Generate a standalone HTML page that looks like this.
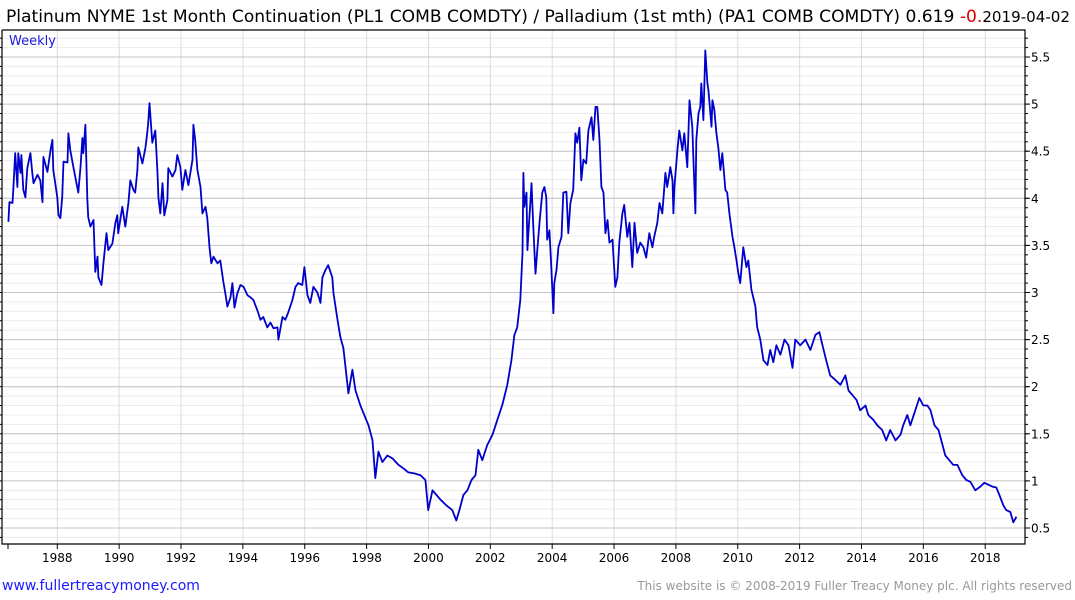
<!DOCTYPE html>
<html><head><meta charset="utf-8">
<style>
html,body{margin:0;padding:0;background:#fff;width:1075px;height:600px;overflow:hidden;font-family:"Liberation Sans","DejaVu Sans",sans-serif;}
svg text{font-family:"DejaVu Sans","Liberation Sans",sans-serif;}
</style></head>
<body>
<svg id="chart" width="1075" height="600" viewBox="0 0 1075 600" xmlns="http://www.w3.org/2000/svg">
<text x="6" y="22" font-size="17" fill="#000" textLength="1064" lengthAdjust="spacingAndGlyphs">Platinum NYME 1st Month Continuation (PL1 COMB COMDTY) / Palladium (1st mth)  (PA1 COMB COMDTY) 0.619 <tspan fill="#e00000">-0.</tspan><tspan font-size="15">2019-04-02</tspan></text>
<g id="grid"></g>
<text x="9" y="45" font-size="13" fill="#1a1adc">Weekly</text>
<g id="axes"></g>
<path id="series" fill="none" stroke="#0000cc" stroke-width="1.8" stroke-linejoin="round"/>
<text x="2" y="590" font-size="14" fill="#1a1aff">www.fullertreacymoney.com</text>
<text x="1072" y="590" font-size="12" fill="#999" text-anchor="end">This website is © 2008-2019 Fuller Treacy Money plc. All rights reserved</text>
</svg>
<script>
const dates=[1986.42,1986.45,1986.55,1986.58,1986.64,1986.71,1986.74,1986.81,1986.84,1986.90,1986.97,1987.03,1987.13,1987.19,1987.23,1987.36,1987.45,1987.52,1987.55,1987.68,1987.78,1987.84,1987.87,1988.00,1988.04,1988.10,1988.16,1988.20,1988.33,1988.36,1988.42,1988.52,1988.68,1988.75,1988.81,1988.84,1988.91,1988.97,1989.00,1989.07,1989.17,1989.23,1989.30,1989.33,1989.43,1989.49,1989.59,1989.65,1989.78,1989.88,1989.94,1989.97,1990.10,1990.20,1990.30,1990.36,1990.46,1990.52,1990.59,1990.62,1990.75,1990.85,1990.91,1990.94,1990.98,1991.07,1991.17,1991.24,1991.27,1991.33,1991.40,1991.46,1991.56,1991.59,1991.72,1991.82,1991.88,1991.98,1992.04,1992.14,1992.24,1992.37,1992.40,1992.46,1992.53,1992.63,1992.69,1992.79,1992.85,1992.92,1992.98,1993.05,1993.18,1993.27,1993.37,1993.43,1993.50,1993.60,1993.66,1993.73,1993.82,1993.92,1994.02,1994.15,1994.24,1994.34,1994.47,1994.57,1994.66,1994.79,1994.89,1994.99,1995.12,1995.15,1995.28,1995.37,1995.47,1995.60,1995.70,1995.79,1995.92,1995.99,1996.09,1996.18,1996.28,1996.41,1996.51,1996.57,1996.67,1996.76,1996.89,1996.93,1997.06,1997.15,1997.25,1997.41,1997.54,1997.64,1997.80,1997.96,1998.06,1998.19,1998.28,1998.38,1998.51,1998.67,1998.83,1999.03,1999.16,1999.35,1999.54,1999.74,1999.90,1999.99,2000.13,2000.26,2000.39,2000.58,2000.77,2000.90,2001.00,2001.13,2001.26,2001.39,2001.52,2001.61,2001.74,2001.90,2002.07,2002.23,2002.39,2002.55,2002.68,2002.78,2002.87,2002.97,2003.04,2003.07,2003.10,2003.17,2003.20,2003.23,2003.30,2003.33,2003.39,2003.46,2003.52,2003.59,2003.68,2003.75,2003.81,2003.84,2003.91,2003.97,2004.04,2004.07,2004.14,2004.20,2004.30,2004.36,2004.46,2004.52,2004.59,2004.68,2004.75,2004.81,2004.88,2004.94,2005.01,2005.10,2005.17,2005.27,2005.33,2005.40,2005.46,2005.53,2005.59,2005.66,2005.72,2005.79,2005.85,2005.95,2006.04,2006.11,2006.17,2006.27,2006.33,2006.43,2006.50,2006.59,2006.66,2006.75,2006.85,2006.95,2007.04,2007.14,2007.24,2007.30,2007.40,2007.47,2007.56,2007.66,2007.72,2007.82,2007.89,2007.92,2007.95,2008.05,2008.11,2008.21,2008.27,2008.37,2008.44,2008.53,2008.56,2008.63,2008.66,2008.73,2008.79,2008.82,2008.89,2008.95,2009.02,2009.05,2009.15,2009.18,2009.24,2009.31,2009.37,2009.44,2009.50,2009.60,2009.66,2009.73,2009.83,2009.89,2009.96,2010.02,2010.08,2010.18,2010.28,2010.34,2010.44,2010.50,2010.57,2010.63,2010.73,2010.83,2010.96,2011.05,2011.15,2011.25,2011.38,2011.51,2011.64,2011.77,2011.86,2012.02,2012.19,2012.35,2012.51,2012.64,2012.74,2012.86,2012.99,2013.16,2013.32,2013.48,2013.58,2013.71,2013.84,2013.96,2014.13,2014.22,2014.38,2014.51,2014.67,2014.80,2014.93,2015.10,2015.26,2015.35,2015.48,2015.58,2015.74,2015.87,2016.00,2016.13,2016.23,2016.36,2016.49,2016.58,2016.71,2016.84,2016.97,2017.10,2017.26,2017.39,2017.52,2017.68,2017.84,2017.97,2018.10,2018.23,2018.36,2018.46,2018.59,2018.68,2018.81,2018.91,2019.01];
const values=[3.75,3.96,3.95,4.11,4.48,4.12,4.48,4.27,4.46,4.09,4.01,4.32,4.48,4.28,4.16,4.25,4.19,3.96,4.44,4.28,4.51,4.62,4.30,4.01,3.82,3.79,4.01,4.39,4.38,4.69,4.51,4.33,4.06,4.33,4.64,4.48,4.78,4.00,3.80,3.70,3.77,3.22,3.38,3.16,3.08,3.31,3.63,3.45,3.52,3.74,3.82,3.63,3.91,3.70,3.95,4.19,4.09,4.06,4.30,4.54,4.37,4.54,4.70,4.80,5.01,4.59,4.72,4.27,4.01,3.84,4.16,3.82,3.98,4.32,4.23,4.30,4.46,4.33,4.09,4.30,4.14,4.41,4.78,4.62,4.30,4.12,3.84,3.91,3.79,3.48,3.31,3.38,3.31,3.34,3.11,3.00,2.85,2.95,3.10,2.84,2.99,3.08,3.06,2.97,2.95,2.92,2.81,2.71,2.74,2.63,2.68,2.62,2.63,2.50,2.74,2.71,2.79,2.92,3.06,3.10,3.08,3.27,2.97,2.89,3.06,3.00,2.89,3.16,3.24,3.29,3.16,2.99,2.71,2.53,2.41,1.93,2.18,1.96,1.80,1.67,1.59,1.43,1.03,1.31,1.20,1.27,1.24,1.17,1.14,1.09,1.08,1.06,1.01,0.69,0.90,0.85,0.80,0.74,0.69,0.58,0.69,0.85,0.90,1.01,1.06,1.33,1.22,1.38,1.49,1.65,1.81,2.02,2.28,2.55,2.63,2.92,3.42,4.27,3.91,4.06,3.45,3.63,3.98,4.16,3.70,3.20,3.45,3.74,4.06,4.12,4.01,3.56,3.66,3.27,2.78,3.10,3.24,3.48,3.59,4.06,4.07,3.63,3.95,4.09,4.69,4.59,4.75,4.19,4.41,4.37,4.72,4.86,4.62,4.97,4.97,4.62,4.12,4.06,3.63,3.77,3.53,3.56,3.06,3.16,3.53,3.84,3.93,3.59,3.74,3.27,3.74,3.42,3.53,3.48,3.37,3.63,3.48,3.59,3.74,3.95,3.84,4.27,4.12,4.33,4.19,3.84,4.12,4.51,4.72,4.51,4.69,4.33,5.04,4.76,4.48,3.84,4.62,4.90,4.97,5.22,4.83,5.57,5.22,5.15,4.76,5.04,4.94,4.69,4.54,4.30,4.48,4.09,4.06,3.84,3.59,3.48,3.34,3.20,3.10,3.48,3.27,3.34,3.03,2.95,2.85,2.63,2.50,2.28,2.23,2.39,2.26,2.44,2.34,2.50,2.44,2.20,2.50,2.44,2.50,2.39,2.55,2.58,2.44,2.28,2.12,2.07,2.02,2.12,1.96,1.91,1.86,1.75,1.80,1.70,1.65,1.59,1.54,1.43,1.54,1.43,1.49,1.59,1.70,1.59,1.75,1.88,1.80,1.80,1.75,1.59,1.54,1.43,1.27,1.22,1.17,1.17,1.06,1.01,0.99,0.90,0.94,0.98,0.96,0.94,0.93,0.85,0.74,0.69,0.67,0.56,0.62];
const yTicks=[0.5,1,1.5,2,2.5,3,3.5,4,4.5,5,5.5];
const yTickLabels=["0.5","1","1.5","2","2.5","3","3.5","4","4.5","5","5.5"];
const xTicks=[1988,1990,1992,1994,1996,1998,2000,2002,2004,2006,2008,2010,2012,2014,2016,2018];

const L=2,R=1025,T=30,B=544;
function xs(yr){return 57.3+(yr-1988)*30.93;}
function ys(v){return 528-(v-0.5)*94.2;}
const NS="http://www.w3.org/2000/svg";
const grid=document.getElementById('grid'),axes=document.getElementById('axes');
function mk(parent,tag,attrs){const e=document.createElementNS(NS,tag);for(const k in attrs)e.setAttribute(k,attrs[k]);parent.appendChild(e);return e;}
for(let v=0.3;v<=5.8;v+=0.1){const y=ys(v);if(y<T||y>B)continue;
 const l=mk(grid,'line',{x1:L,x2:R,y1:y,y2:y,stroke:'#ececec','stroke-width':1});
 
 }
xTicks.forEach(t=>{const x=xs(t);
 const l=mk(grid,'line',{x1:x,x2:x,y1:T,y2:B,stroke:'#dcdcdc','stroke-width':1});
 
 
 const tk=mk(axes,'line',{x1:x,x2:x,y1:B,y2:B+5,stroke:'#000','stroke-width':1});
 
 
 const tx=mk(axes,'text',{x:x,y:B+18,'font-size':12,'text-anchor':'middle',fill:'#000'});
 tx.textContent=String(t);
 
 });
{const tk=mk(axes,'line',{x1:8,x2:8,y1:B,y2:B+5,stroke:'#000'});
 
 }
yTicks.forEach((v,i)=>{const y=ys(v);
 const l=mk(grid,'line',{x1:L,x2:R,y1:y,y2:y,stroke:'#c4c4c4','stroke-width':1});
 
 
 const tk=mk(axes,'line',{x1:R,x2:R+5,y1:y,y2:y,stroke:'#000'});
 
 
 const tx=mk(axes,'text',{x:R+6,y:y+4.5,'font-size':12,fill:'#000'});
 tx.textContent=yTickLabels[i];
 
 });
for(let v=0.3;v<=5.8;v+=0.1){const y=ys(v);if(y<T||y>B)continue;
 const tk=mk(axes,'line',{x1:R,x2:R+3,y1:y,y2:y,stroke:'#000'});
 
 
 const tl=mk(axes,'line',{x1:L-2,x2:L,y1:y,y2:y,stroke:'#000'});
 
 }
const frame=mk(axes,'path',{d:`M${L},${T}V${B}H${R}V${T}H${L}`,fill:'none',stroke:'#000','stroke-width':1.2});


let d='';dates.forEach((t,i)=>{d+=(i?'L':'M')+xs(t).toFixed(1)+','+ys(values[i]).toFixed(1);});
document.getElementById('series').setAttribute('d',d);
</script>
</body></html>
